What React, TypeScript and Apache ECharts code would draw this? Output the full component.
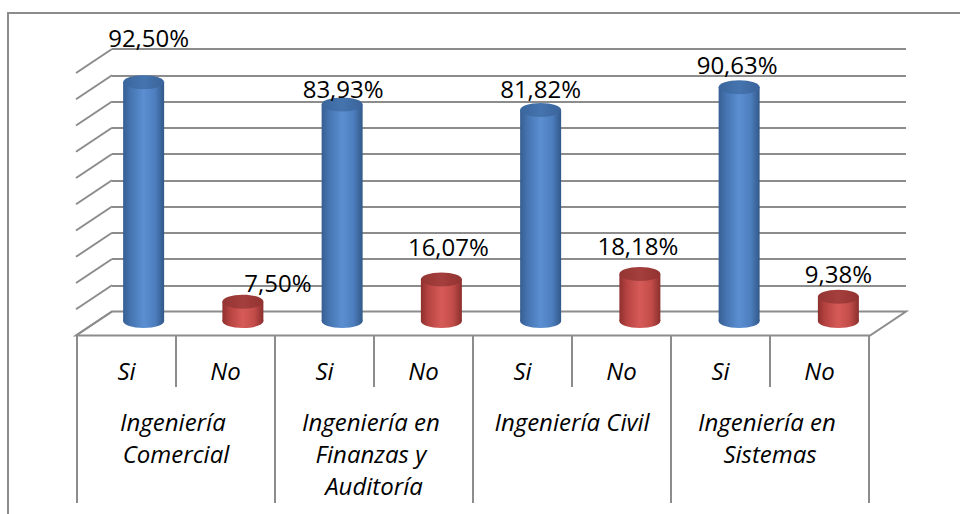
import React, { useEffect, useRef } from "react";
import * as echarts from "echarts";

// ---- data ----
const groups = [
  "Ingeniería Comercial",
  "Ingeniería en Finanzas y Auditoría",
  "Ingeniería Civil",
  "Ingeniería en Sistemas",
];
const answers = ["Si", "No"];
const siValues = [92.5, 83.93, 81.82, 90.63];
const noValues = [7.5, 16.07, 18.18, 9.38];
const yMax = 100;
const yStep = 10;

// ---- derived ----
const answerLabels = groups.flatMap(() => answers);
const values = groups.flatMap((_, i) => [siValues[i], noValues[i]]);
const wallTicks: number[] = [];
for (let t = 0; t <= yMax; t += yStep) wallTicks.push(t);

// ---- styles ----
const FONT = "'Open Sans', 'DejaVu Sans', sans-serif";
const GRID_COLOR = "#8c8c8c";
const DEPTH = [-36, 24];
const CYL_W = 41;
const CYL_RY = 7;
const labelNudge = [
  [5, -25],
  [35, 1],
  [1, 4],
  [7, -13],
  [0, -1],
  [-2, -9],
  [-2, -3],
  [0, -3],
];
const cylStyle: Record<string, { body: [number, string][]; cap: [number, string][] }> = {
  Si: {
    body: [
      [0, "#375e92"],
      [0.18, "#4574b0"],
      [0.5, "#5b8fd2"],
      [0.78, "#4d7ebe"],
      [1, "#325889"],
    ],
    cap: [
      [0, "#3a659c"],
      [0.5, "#4574ae"],
      [1, "#3a639a"],
    ],
  },
  No: {
    body: [
      [0, "#8e302e"],
      [0.18, "#b64341"],
      [0.5, "#d65b58"],
      [0.78, "#c24c49"],
      [1, "#8a2f2d"],
    ],
    cap: [
      [0, "#943533"],
      [0.5, "#a43f3d"],
      [1, "#923331"],
    ],
  },
};

const grad = (stops: [number, string][]) =>
  new echarts.graphic.LinearGradient(
    0,
    0,
    1,
    0,
    stops.map(([offset, color]) => ({ offset, color }))
  );

const fmt = (v: number) => v.toFixed(2).replace(".", ",") + "%";

export default function App() {
  const ref = useRef<HTMLDivElement>(null);

  useEffect(() => {
    if (!ref.current) return;
    const chart = echarts.init(ref.current, undefined, { renderer: "svg" });

    const option: any = {
      animation: false,
      backgroundColor: "#ffffff",
      graphic: [
        {
          type: "rect",
          silent: true,
          shape: { x: 8, y: 13, width: 1000, height: 600 },
          style: { fill: "none", stroke: GRID_COLOR, lineWidth: 2 },
        },
      ],
      grid: [
        // back wall
        { left: 112, right: 54, top: 49, bottom: 202.5 },
        // cylinders plane (middle depth)
        { left: 94, right: 72, top: 63, bottom: 193 },
        // front plane – answers
        { left: 77, right: 91, top: 100, bottom: 179 },
        // front plane – groups
        { left: 77, right: 91, top: 100, bottom: 179 },
      ],
      xAxis: [
        { gridIndex: 0, type: "value", min: 0, max: 1, show: false },
        {
          gridIndex: 1,
          type: "category",
          data: answerLabels,
          show: false,
        },
        {
          gridIndex: 2,
          type: "category",
          position: "bottom",
          data: answerLabels,
          axisLine: { show: false },
          axisTick: {
            show: true,
            interval: 0,
            length: 52,
            lineStyle: { color: GRID_COLOR, width: 2 },
          },
          axisLabel: {
            interval: 0,
            margin: 19,
            color: "#000",
            fontStyle: "italic",
            fontFamily: FONT,
            fontSize: 24,
            lineHeight: 32,
          },
        },
        {
          gridIndex: 3,
          type: "category",
          position: "bottom",
          data: groups,
          axisLine: { show: false },
          axisTick: {
            show: true,
            interval: 0,
            length: 168,
            lineStyle: { color: GRID_COLOR, width: 2 },
          },
          axisLabel: {
            interval: 0,
            margin: 70,
            color: "#000",
            fontStyle: "italic",
            fontFamily: FONT,
            fontSize: 24,
            lineHeight: 32,
            width: 185,
            overflow: "break",
            align: "center",
          },
        },
      ],
      yAxis: [
        {
          gridIndex: 0,
          type: "value",
          min: 0,
          max: yMax,
          interval: yStep,
          axisLabel: { show: false },
          axisLine: { show: false },
          axisTick: { show: false },
          splitLine: { show: true, lineStyle: { color: GRID_COLOR, width: 2 } },
        },
        { gridIndex: 1, type: "value", min: 0, max: yMax, show: false },
        { gridIndex: 2, type: "value", show: false },
        { gridIndex: 3, type: "value", show: false },
      ],
      series: [
        {
          type: "custom",
          xAxisIndex: 0,
          yAxisIndex: 0,
          z: 1,
          silent: true,
          data: wallTicks.map((t) => [0, t]),
          renderItem: (_params: any, api: any) => {
            const v = api.value(1);
            const back = api.coord([0, v]);
            const children: any[] = [
              {
                type: "line",
                shape: {
                  x1: back[0] + DEPTH[0],
                  y1: back[1] + DEPTH[1],
                  x2: back[0],
                  y2: back[1],
                },
                style: { stroke: GRID_COLOR, lineWidth: 2 },
              },
            ];
            if (v === 0) {
              const br = api.coord([1, 0]);
              children.unshift({
                type: "polygon",
                shape: {
                  points: [
                    [back[0], back[1]],
                    [br[0], br[1]],
                    [br[0] + DEPTH[0], br[1] + DEPTH[1]],
                    [back[0] + DEPTH[0], back[1] + DEPTH[1]],
                  ],
                },
                style: { fill: "#ffffff", stroke: GRID_COLOR, lineWidth: 2 },
              });
            }
            return { type: "group", children };
          },
        },
        {
          type: "custom",
          xAxisIndex: 1,
          yAxisIndex: 1,
          z: 3,
          silent: true,
          data: values.map((v, i) => [i, v]),
          renderItem: (_params: any, api: any) => {
            const i = api.value(0);
            const v = api.value(1);
            const base = api.coord([i, 0]);
            const top = api.coord([i, v]);
            const st = cylStyle[answers[i % answers.length]];
            const body = grad(st.body);
            const nudge = labelNudge[i] || [0, 0];
            return {
              type: "group",
              children: [
                {
                  type: "ellipse",
                  shape: { cx: base[0], cy: base[1], rx: CYL_W / 2, ry: CYL_RY },
                  style: { fill: grad(st.body) },
                },
                {
                  type: "rect",
                  shape: {
                    x: base[0] - CYL_W / 2,
                    y: top[1],
                    width: CYL_W,
                    height: base[1] - top[1],
                  },
                  style: { fill: body },
                },
                {
                  type: "ellipse",
                  shape: { cx: top[0], cy: top[1], rx: CYL_W / 2, ry: CYL_RY },
                  style: { fill: grad(st.cap) },
                },
                {
                  type: "text",
                  x: top[0] + nudge[0],
                  y: top[1] - 20 + nudge[1],
                  style: {
                    text: fmt(v),
                    fill: "#000",
                    fontFamily: FONT,
                    fontSize: 24,
                    align: "center",
                    verticalAlign: "middle",
                  },
                },
              ],
            };
          },
        },
      ],
    };

    chart.setOption(option);
    return () => chart.dispose();
  }, []);

  return (
    <div
      ref={ref}
      style={{ position: "fixed", left: 0, top: 0, width: 960, height: 514 }}
    />
  );
}
